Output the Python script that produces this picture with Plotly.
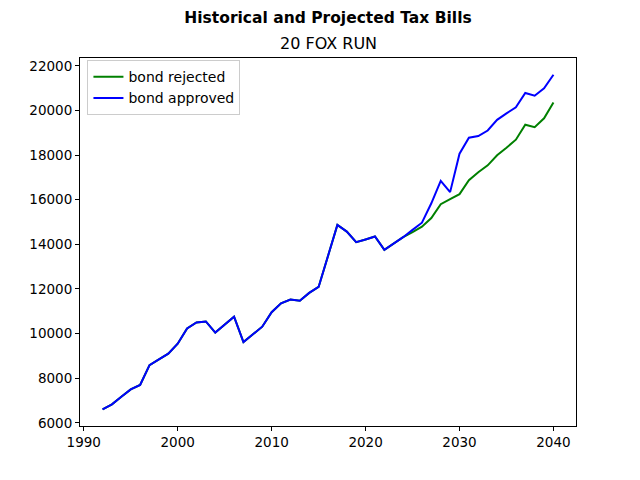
import plotly.graph_objects as go

# tax bills per year
years = list(range(1992, 2041))

bond_rejected = [
    6610, 6830, 7170, 7500, 7700, 8585, 8850, 9105, 9550, 10235,
    10500, 10545, 10045, 10400, 10755, 9620, 9965, 10310, 10960, 11360,
    11530, 11470, 11825, 12090, 13480, 14870, 14570, 14100, 14220, 14350,
    13755, 14035, 14320, 14550, 14790, 15180, 15800, 16030, 16250, 16870,
    17230, 17540, 17990, 18330, 18690, 19360, 19250, 19650, 20360,
]

bond_approved = [
    6610, 6830, 7170, 7500, 7700, 8585, 8850, 9105, 9550, 10235,
    10500, 10545, 10045, 10400, 10755, 9620, 9965, 10310, 10960, 11360,
    11530, 11470, 11825, 12090, 13480, 14870, 14570, 14100, 14220, 14350,
    13755, 14035, 14320, 14650, 14970, 15840, 16840, 16340, 18060, 18780,
    18850, 19100, 19580, 19870, 20140, 20780, 20660, 20990, 21600,
]

suptitle = "Historical and Projected Tax Bills"
subtitle = "20 FOX RUN"

fig = go.Figure()
fig.add_trace(go.Scatter(x=years, y=bond_rejected, mode="lines",
                         name="bond rejected", line=dict(color="green", width=2)))
fig.add_trace(go.Scatter(x=years, y=bond_approved, mode="lines",
                         name="bond approved", line=dict(color="blue", width=2)))

# matplotlib-like 5% padding on both axes
allv = bond_rejected + bond_approved
ypad = (max(allv) - min(allv)) * 0.05
xpad = (years[-1] - years[0]) * 0.05

axis_style = dict(
    showline=True, linecolor="black", linewidth=1, mirror=True,
    ticks="outside", ticklen=4, tickwidth=1, tickcolor="black",
    showgrid=False, zeroline=False,
    tickfont=dict(size=13.5, color="black"),
)

fig.update_xaxes(range=[years[0] - xpad, years[-1] + xpad],
                 tick0=1990, dtick=10, **axis_style)
fig.update_yaxes(range=[min(allv) - ypad, max(allv) + ypad],
                 tick0=6000, dtick=2000, tickformat="d", **axis_style)

# the page body adds 8px, so margins are set 8px smaller on top/left
fig.update_layout(
    width=640, height=480,
    margin=dict(l=72, r=72, t=50, b=62),
    paper_bgcolor="white", plot_bgcolor="white",
    font=dict(family="DejaVu Sans", color="black"),
    title=dict(text="<b>" + suptitle + "</b>", x=0.5, xref="container",
               y=1 - 10 / 480, yref="container", yanchor="middle",
               font=dict(size=15.5)),
    legend=dict(x=0.015, y=0.994, xanchor="left", yanchor="top",
                bgcolor="white", bordercolor="#cccccc", borderwidth=1,
                font=dict(size=14), tracegroupgap=0,
                itemwidth=30),
    annotations=[dict(text=subtitle, x=0.5, y=1, xref="paper", yref="paper",
                      xanchor="center", yanchor="bottom", yshift=3,
                      showarrow=False, font=dict(size=16))],
)

fig.write_html("out.html")
